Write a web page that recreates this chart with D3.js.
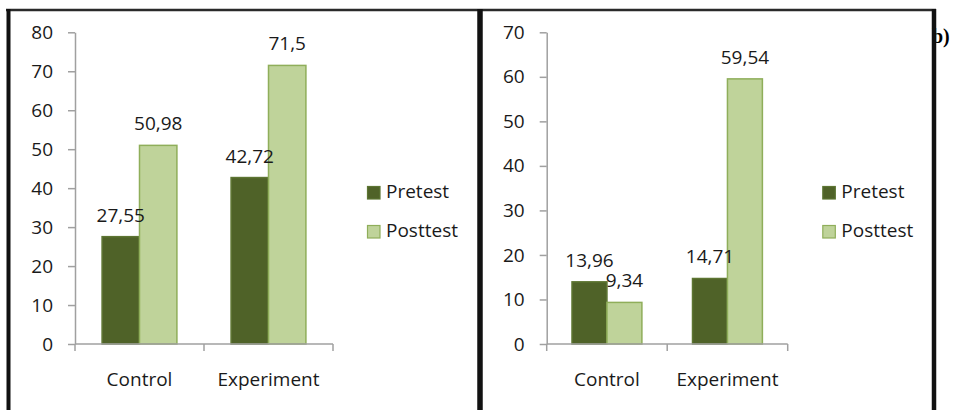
<!DOCTYPE html>
<html>
<head>
<meta charset="utf-8">
<script src="https://cdn.jsdelivr.net/npm/d3@7"></script>
<style>
  html, body { margin: 0; padding: 0; background: #fff; }
  svg { display: block; }
  text { font-family: "Open Sans", sans-serif; fill: #1a1a1a; }
</style>
</head>
<body>
<div id="chart"></div>
<script>
const width = 953;
const height = 410;

// data
const categories = ["Control", "Experiment"];
const series = ["Pretest", "Posttest"];
const pretestA = [27.55, 42.72];
const posttestA = [50.98, 71.5];
const pretestB = [13.96, 14.71];
const posttestB = [9.34, 59.54];
const ticksA = [0, 10, 20, 30, 40, 50, 60, 70, 80];
const ticksB = [0, 10, 20, 30, 40, 50, 60, 70];

const colors = {
  Pretest: { fill: "#4f6228", stroke: "#5d7532" },
  Posttest: { fill: "#bfd39a", stroke: "#8fae5a" }
};
const axisColor = "#a0a0a0";
const fmt = v => String(v).replace(".", ",");

const svg = d3.select("#chart")
  .append("svg")
  .attr("width", width)
  .attr("height", height);

function drawPanel(opt) {
  const g = svg.append("g");
  const values = { Pretest: opt.pre, Posttest: opt.post };

  const y = d3.scaleLinear()
    .domain([0, d3.max(opt.ticks)])
    .range([344, 32.3]);

  const x0 = d3.scaleBand()
    .domain(categories)
    .range([opt.left, opt.right]);

  const pad = x0.bandwidth() * 0.21;
  const x1 = d3.scaleBand()
    .domain(series)
    .range([pad, x0.bandwidth() - pad]);

  // y axis
  const yAxis = g.append("g")
    .attr("transform", `translate(${opt.left},0)`)
    .call(d3.axisLeft(y).tickValues(opt.ticks).tickSize(7).tickSizeOuter(0).tickPadding(15));
  yAxis.select(".domain").attr("stroke", axisColor).attr("stroke-width", 1.5);
  yAxis.selectAll(".tick line").attr("stroke", axisColor).attr("stroke-width", 1.5);
  yAxis.selectAll(".tick text")
    .attr("font-family", "Open Sans, sans-serif")
    .attr("font-size", 19)
    .attr("fill", "#1a1a1a");

  // bars
  const groups = g.selectAll(".cat")
    .data(categories)
    .enter().append("g")
    .attr("transform", d => `translate(${x0(d)},0)`);

  groups.selectAll("rect")
    .data((d, i) => series.map(s => ({ s, v: values[s][i] })))
    .enter().append("rect")
    .attr("x", d => x1(d.s))
    .attr("y", d => y(d.v))
    .attr("width", x1.bandwidth())
    .attr("height", d => y(0) - y(d.v))
    .attr("fill", d => colors[d.s].fill)
    .attr("stroke", d => colors[d.s].stroke)
    .attr("stroke-width", 1.5);

  // x axis line + boundary ticks
  g.append("line")
    .attr("x1", opt.left).attr("x2", opt.right)
    .attr("y1", y(0)).attr("y2", y(0))
    .attr("stroke", axisColor).attr("stroke-width", 1.5);

  const bounds = categories.map(c => x0(c)).concat([opt.right]);
  g.selectAll(".xtick")
    .data(bounds)
    .enter().append("line")
    .attr("x1", d => d).attr("x2", d => d)
    .attr("y1", y(0)).attr("y2", y(0) + 7)
    .attr("stroke", axisColor).attr("stroke-width", 1.5);

  g.selectAll(".xlabel")
    .data(categories)
    .enter().append("text")
    .attr("x", d => x0(d) + x0.bandwidth() / 2)
    .attr("y", 386)
    .attr("text-anchor", "middle")
    .attr("font-size", 19)
    .text(d => d);

  // value labels
  groups.selectAll(".val")
    .data((d, i) => series.map(s => ({ s, v: values[s][i] })))
    .enter().append("text")
    .attr("x", d => x1(d.s) + x1.bandwidth() / 2)
    .attr("y", d => y(d.v) - 15)
    .attr("text-anchor", "middle")
    .attr("font-size", 19)
    .text(d => fmt(d.v));

  // legend
  const legend = g.selectAll(".legend")
    .data(series)
    .enter().append("g")
    .attr("transform", (d, i) => `translate(${opt.legendX},${186 + i * 39})`);

  legend.append("rect")
    .attr("x", 0.5).attr("y", 0.5)
    .attr("width", 12.5).attr("height", 12.5)
    .attr("fill", d => colors[d].fill)
    .attr("stroke", d => colors[d].stroke)
    .attr("stroke-width", 1.2);

  legend.append("text")
    .attr("x", 19)
    .attr("y", 12)
    .attr("font-size", 19)
    .text(d => d);
}

drawPanel({ left: 75, right: 333, pre: pretestA, post: posttestA, ticks: ticksA, legendX: 367 });
drawPanel({ left: 546.7, right: 787.7, pre: pretestB, post: posttestB, ticks: ticksB, legendX: 822.3 });

// partly hidden panel letter
svg.append("text")
  .attr("x", 932)
  .attr("y", 43)
  .style("font-family", "Liberation Serif, serif")
  .style("font-weight", "bold")
  .style("font-size", "20px")
  .style("fill", "#000")
  .text("b)");

// frame
svg.append("line")
  .attr("x1", 6).attr("x2", 936)
  .attr("y1", 10).attr("y2", 10)
  .attr("stroke", "#2a2a2a").attr("stroke-width", 2.5);

[{ x: 8.5, w: 4 }, { x: 480, w: 5.5 }, { x: 934, w: 4.5 }].forEach(b => {
  svg.append("line")
    .attr("x1", b.x).attr("x2", b.x)
    .attr("y1", 9).attr("y2", height)
    .attr("stroke", "#111").attr("stroke-width", b.w);
});
</script>
</body>
</html>
